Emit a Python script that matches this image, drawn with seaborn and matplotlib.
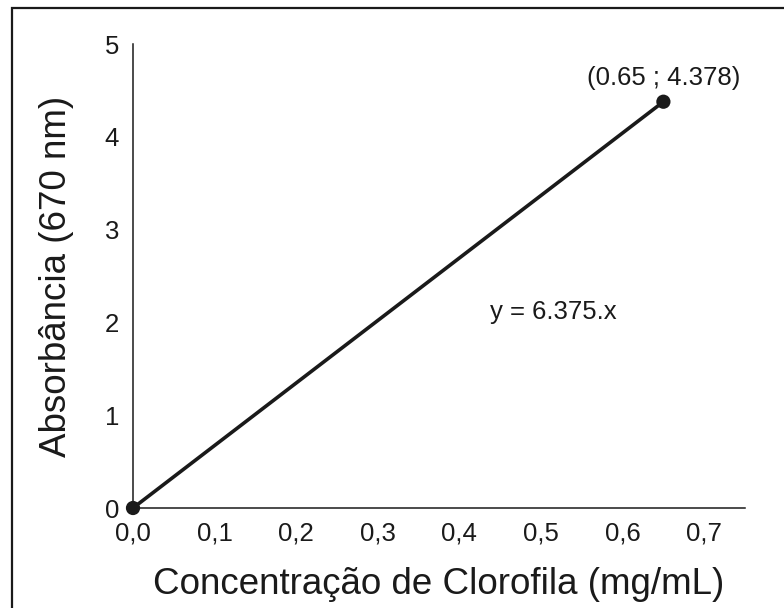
import matplotlib
matplotlib.use("Agg")
import matplotlib.pyplot as plt
import seaborn as sns
import pandas as pd
from matplotlib.patches import Rectangle
from matplotlib.ticker import FuncFormatter

concentracao = [0.0, 0.65]
absorbancia = [0.0, 4.378]
x_ticks = [0.0, 0.1, 0.2, 0.3, 0.4, 0.5, 0.6, 0.7]
y_ticks = [0, 1, 2, 3, 4, 5]
point_label = "(0.65 ; 4.378)"
equation_label = "y = 6.375.x"

sns.set_theme(style="white")
plt.rcParams["font.family"] = ["Liberation Sans", "DejaVu Sans"]

df = pd.DataFrame({"x": concentracao, "y": absorbancia})

fig = plt.figure(figsize=(7.84, 6.08), dpi=100)
ax = fig.add_axes([133 / 784, 1 - 508 / 608, (745 - 133) / 784, (508 - 44) / 608])

sns.lineplot(data=df, x="x", y="y", ax=ax, color="#1a1a1a", linewidth=2.6)
sns.scatterplot(data=df, x="x", y="y", ax=ax, color="#1a1a1a", s=105,
                edgecolor="none", zorder=5, clip_on=False)

ax.set_xlim(0, 0.75)
ax.set_ylim(0, 5)
ax.set_xticks(x_ticks)
ax.set_yticks(y_ticks)
ax.xaxis.set_major_formatter(FuncFormatter(lambda v, p: f"{v:.1f}".replace(".", ",")))
ax.yaxis.set_major_formatter(FuncFormatter(lambda v, p: f"{int(round(v))}"))
ax.tick_params(axis="both", length=0, labelsize=18.5, colors="#1a1a1a")
ax.tick_params(axis="x", pad=10)
ax.tick_params(axis="y", pad=10)

for side in ["top", "right"]:
    ax.spines[side].set_visible(False)
for side in ["left", "bottom"]:
    ax.spines[side].set_color("#1a1a1a")
    ax.spines[side].set_linewidth(1.1)

ax.set_xlabel("Concentração de Clorofila (mg/mL)", fontsize=26.5, color="#1a1a1a", labelpad=15)
ax.set_ylabel("Absorbância (670 nm)", fontsize=26.5, color="#1a1a1a", labelpad=22)

ax.text(0.65, 4.63, point_label, ha="center", va="center", fontsize=18.5, color="#1a1a1a")
ax.text(0.515, 2.11, equation_label, ha="center", va="center", fontsize=18.5, color="#1a1a1a")

fig.patches.append(Rectangle((12 / 784, -0.05), 1.2, 1 - 8 / 608 + 0.05,
                             transform=fig.transFigure, fill=False,
                             edgecolor="#1a1a1a", linewidth=1.6))

fig.savefig("out.png", dpi=100)
